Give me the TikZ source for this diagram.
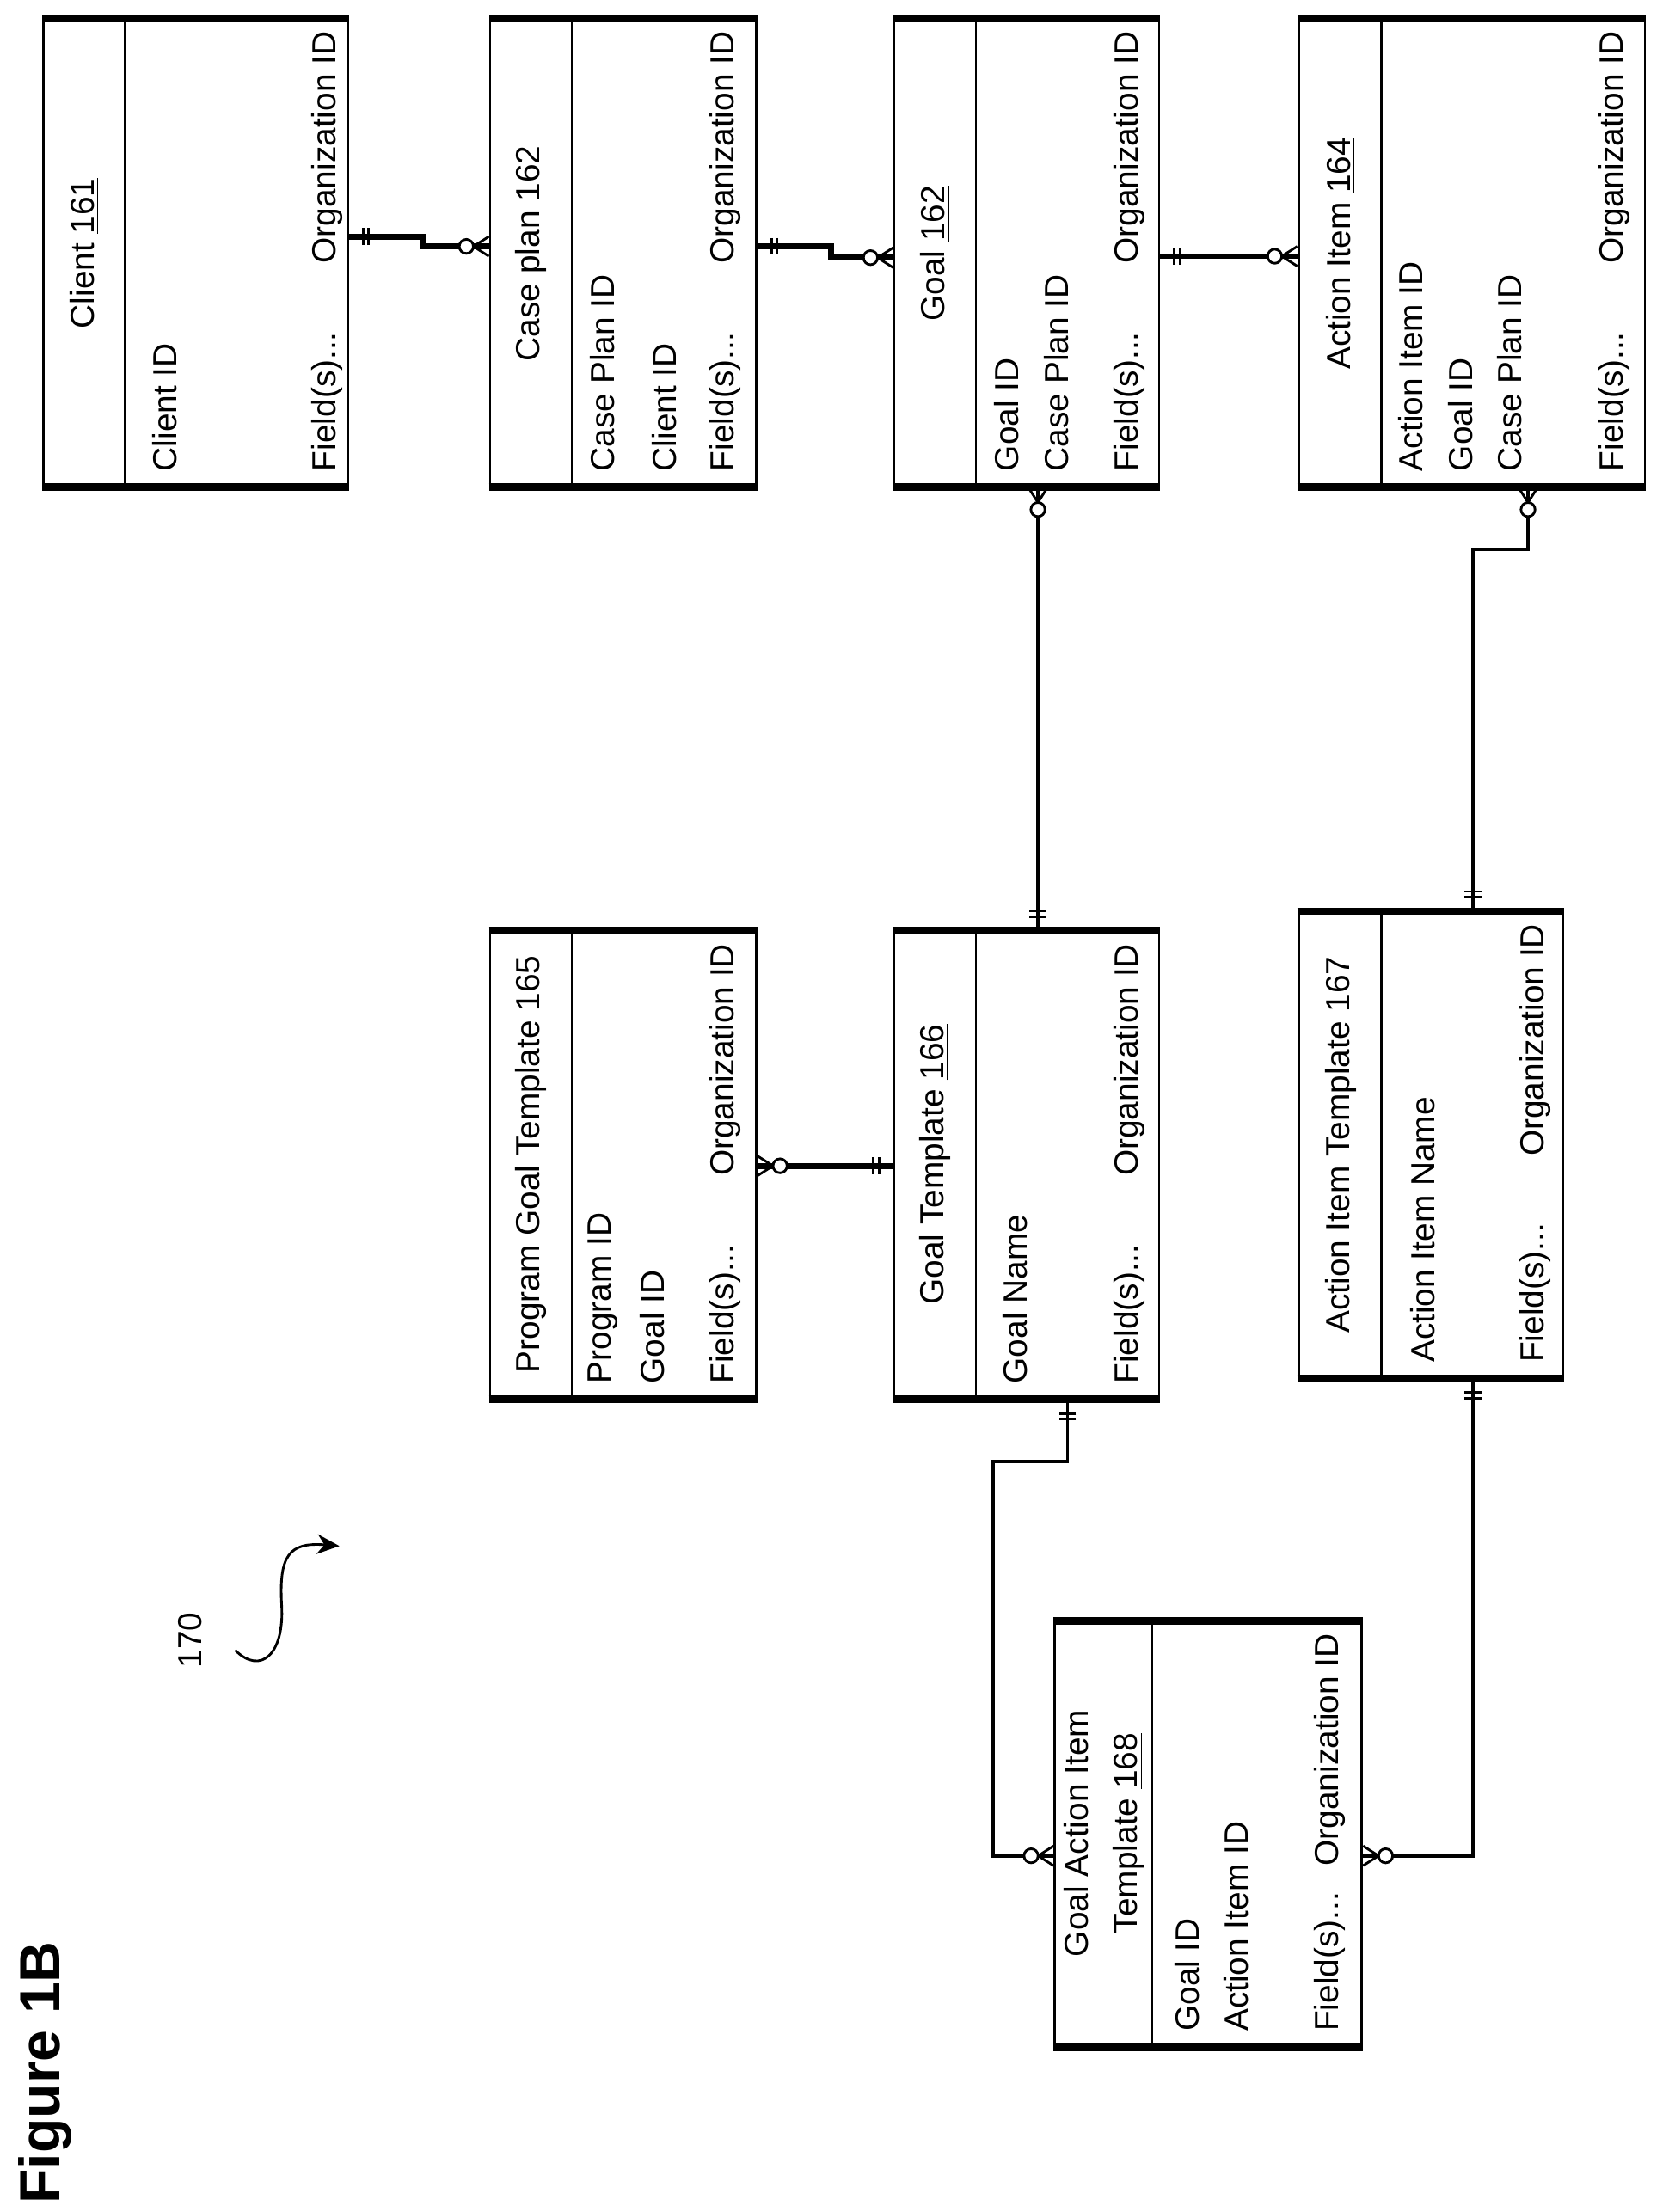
\documentclass[tikz,border=0pt]{standalone}
\usepackage{fontspec}
\setmainfont{Liberation Sans}
\usetikzlibrary{fit,arrows.meta}

\tikzset{
    box/.style={rectangle, draw, line width=1pt, inner sep=0pt},
    bar/.style={line width=3pt},
    link/.style={line width=1.3pt},
    fld/.style={rotate=90, inner sep=0pt, font=\fontsize{13.5}{20}\selectfont},
    one/.pic={\draw[line width=1pt] (10,-6) -- (10,6) (14,-6) -- (14,6);},
    many/.pic={\draw[line width=1pt] (0,-7) -- (11,0) (0,7) -- (11,0) (0,0) -- (11,0);
        \draw[line width=1pt, fill=white] (16,0) circle[radius=0.1cm];}
}

% entity box: name, x1, y1, x2, y2, divider x
\newcommand\entity[6]{%
    \path (#2,#3) coordinate (#1-a) (#4,#5) coordinate (#1-b);
    \node[box, fit=(#1-a)(#1-b)] (#1) {};
    \draw[bar] (#1.north west) -- (#1.north east);
    \draw[bar] (#1.south west) -- (#1.south east);
    \draw[line width=1pt] (#6,#3) -- (#6,#5);
}

\begin{document}
\begin{tikzpicture}[x=0.02cm, y=-0.02cm]
    \useasboundingbox (0,0) rectangle (1185,1571);

    % Entities
    \entity{client}{31}{14}{247}{345}{89}
    \entity{caseplan}{348}{14}{537}{345}{406}
    \entity{goal}{635}{14}{823}{345}{693}
    \entity{action}{922}{14}{1168}{345}{981}
    \entity{pgt}{348}{662}{537}{993}{406}
    \entity{gt}{635}{662}{823}{993}{693}
    \entity{ait}{922}{648}{1110}{978}{981}
    \entity{gait}{749}{1152}{967}{1453}{818}

    % Client
    \node[fld] (client-h) at (60,180) {Client \underline{161}};
    \node[fld, anchor=west] (client-f1) at (117,335) {Client ID};
    \node[fld, anchor=west] (client-f2) at (232,335) {Field(s)...};
    \node[fld, anchor=east] (client-o) at (232,22) {Organization ID};

    % Case plan
    \node[fld] (caseplan-h) at (377,180) {Case plan \underline{162}};
    \node[fld, anchor=west] (caseplan-f1) at (428,335) {Case Plan ID};
    \node[fld, anchor=west] (caseplan-f2) at (472,335) {Client ID};
    \node[fld, anchor=west] (caseplan-f3) at (515,335) {Field(s)...};
    \node[fld, anchor=east] (caseplan-o) at (515,22) {Organization ID};

    % Goal
    \node[fld] (goal-h) at (664,180) {Goal \underline{162}};
    \node[fld, anchor=west] (goal-f1) at (715,335) {Goal ID};
    \node[fld, anchor=west] (goal-f2) at (750,335) {Case Plan ID};
    \node[fld, anchor=west] (goal-f3) at (802,335) {Field(s)...};
    \node[fld, anchor=east] (goal-o) at (802,22) {Organization ID};

    % Action Item
    \node[fld] (action-h) at (952,180) {Action Item \underline{164}};
    \node[fld, anchor=west] (action-f1) at (1002,335) {Action Item ID};
    \node[fld, anchor=west] (action-f2) at (1037,335) {Goal ID};
    \node[fld, anchor=west] (action-f3) at (1072,335) {Case Plan ID};
    \node[fld, anchor=west] (action-f4) at (1146,335) {Field(s)...};
    \node[fld, anchor=east] (action-o) at (1146,22) {Organization ID};

    % Program Goal Template
    \node[fld] (pgt-h) at (377,827) {Program Goal Template \underline{165}};
    \node[fld, anchor=west] (pgt-f1) at (428,983) {Program ID};
    \node[fld, anchor=west] (pgt-f2) at (463,983) {Goal ID};
    \node[fld, anchor=west] (pgt-f3) at (515,983) {Field(s)...};
    \node[fld, anchor=east] (pgt-o) at (515,670) {Organization ID};

    % Goal Template
    \node[fld] (gt-h) at (664,827) {Goal Template \underline{166}};
    \node[fld, anchor=west] (gt-f1) at (721,983) {Goal Name};
    \node[fld, anchor=west] (gt-f2) at (802,983) {Field(s)...};
    \node[fld, anchor=east] (gt-o) at (802,670) {Organization ID};

    % Action Item Template
    \node[fld] (ait-h) at (952,813) {Action Item Template \underline{167}};
    \node[fld, anchor=west] (ait-f1) at (1010,968) {Action Item Name};
    \node[fld, anchor=west] (ait-f2) at (1090,968) {Field(s)...};
    \node[fld, anchor=east] (ait-o) at (1090,656) {Organization ID};

    % Goal Action Item Template
    \node[fld, align=center] (gait-h) at (784,1302) {Goal Action Item\\Template \underline{168}};
    \node[fld, anchor=west] (gait-f1) at (843,1443) {Goal ID};
    \node[fld, anchor=west] (gait-f2) at (878,1443) {Action Item ID};
    \node[fld, anchor=west] (gait-f3) at (944,1443) {Field(s)...};
    \node[fld, anchor=east] (gait-o) at (944,1160) {Organization ID};

    % Relations
    \draw[line width=2.5pt] (client.east |- 0,168) -| (300,175) -- (caseplan.west |- 0,175);
    \pic at (client.east |- 0,168) {one};
    \pic[rotate=180] at (caseplan.west |- 0,175) {many};

    \draw[line width=2.5pt] (caseplan.east |- 0,175) -| (590,183) -- (goal.west |- 0,183);
    \pic at (caseplan.east |- 0,175) {one};
    \pic[rotate=180] at (goal.west |- 0,183) {many};

    \draw[line width=2pt] (goal.east |- 0,182) -- (action.west |- 0,182);
    \pic at (goal.east |- 0,182) {one};
    \pic[rotate=180] at (action.west |- 0,182) {many};

    \draw[link] (goal.south -| 737,0) -- (gt.north -| 737,0);
    \pic[rotate=-90] at (goal.south -| 737,0) {many};
    \pic[rotate=90] at (gt.north -| 737,0) {one};

    \draw[link] (action.south -| 1085,0) -- (1085,390) -| (ait.north -| 1046,0);
    \pic[rotate=-90] at (action.south -| 1085,0) {many};
    \pic[rotate=90] at (ait.north -| 1046,0) {one};

    \draw[line width=2.5pt] (pgt.east |- 0,828) -- (gt.west |- 0,828);
    \pic at (pgt.east |- 0,828) {many};
    \pic[rotate=180] at (gt.west |- 0,828) {one};

    \draw[link] (gt.south -| 758,0) -- (758,1038) -| (705,1318) -- (gait.west |- 0,1318);
    \pic[rotate=-90] at (gt.south -| 758,0) {one};
    \pic[rotate=180] at (gait.west |- 0,1318) {many};

    \draw[link] (ait.south -| 1046,0) |- (gait.east |- 0,1318);
    \pic[rotate=-90] at (ait.south -| 1046,0) {one};
    \pic at (gait.east |- 0,1318) {many};

    % Figure label and reference
    \node[rotate=90, font=\fontsize{23}{28}\selectfont\bfseries] (fig) at (32,1472) {Figure 1B};
    \node[fld] (ref) at (137,1165) {\underline{170}};
    \coordinate (ref-tip) at (241,1098);
    \draw[line width=1pt, -{Stealth[length=9pt,width=8pt]}] (167,1172) .. controls (185,1190) and (202,1175) .. (200,1140)
        .. controls (198,1105) and (205,1095) .. (ref-tip);
\end{tikzpicture}
\end{document}
